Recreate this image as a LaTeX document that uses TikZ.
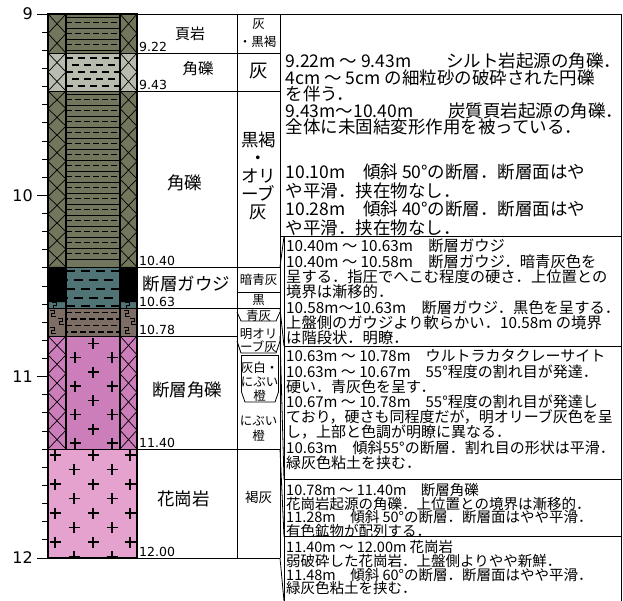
\documentclass[tikz,border=0pt]{standalone}
\usepackage{fontspec}
\setmainfont{Noto Sans CJK JP}
\newfontfamily\numfont{DejaVu Sans}

\definecolor{shalecol}{RGB}{114,118,92}
\definecolor{siltcol}{RGB}{184,188,174}
\definecolor{gougecol}{RGB}{80,115,118}
\definecolor{catacol}{RGB}{124,110,100}
\definecolor{brecol}{RGB}{204,126,186}
\definecolor{granitecol}{RGB}{230,162,206}

\tikzset{
  frame/.style={line width=0.8pt},
  hatch/.style={line width=0.7pt},
  plus/.style={line width=1.6pt},
  axisnum/.style={anchor=east,inner sep=0pt,font=\numfont\fontsize{16}{16}\selectfont},
  depthnum/.style={anchor=south west,inner sep=0pt,font=\numfont\fontsize{12.5}{12.5}\selectfont},
  rock/.style={inner sep=0pt,font=\fontsize{17.5}{17.5}\selectfont},
  colour/.style={inner sep=0pt,align=center,font=\fontsize{12.5}{13}\selectfont},
  desc/.style={anchor=north west,align=left,inner sep=0pt},
}

% crossed cells of a side strip: x left, x right, y top, cell height, count
\newcommand\xcells[5]{%
  \foreach \k in {1,...,#5}
    \draw[hatch] (#1,{#3+#4*(\k-1)}) -- (#2,{#3+#4*\k})
                 (#2,{#3+#4*(\k-1)}) -- (#1,{#3+#4*\k});}
\newcommand\plussign[2]{\draw[plus] ({#1-5.5},#2) -- ({#1+5.5},#2) (#1,{#2-5.5}) -- (#1,{#2+5.5});}
\newcommand\hook[2]{\draw[line width=1pt] (#1,#2) -- ++(4,0) -- ++(0,3) -- ++(-2.5,0) -- ++(0,3) -- ++(4,0);}

\begin{document}
\begin{tikzpicture}[x=1pt,y=-1pt]
\useasboundingbox (0,0) rectangle (623,601);

% rock column
\fill[shalecol] (48,14) rectangle (137,53);
\fill[siltcol] (48,53) rectangle (137,91);
\fill[shalecol] (48,91) rectangle (137,267);
\fill[gougecol] (48,267) rectangle (137,308.5);
\fill[black] (48,267) rectangle (66,302) (120,267) rectangle (137,302);
\fill[catacol] (48,308.5) rectangle (137,336);
\fill[brecol] (48,336) rectangle (137,449);
\fill[granitecol] (48,449) rectangle (137,558);

\xcells{48}{66}{14}{19.5}{2}
\xcells{120}{137}{14}{19.5}{2}
\xcells{48}{66}{53}{19}{2}
\xcells{120}{137}{53}{19}{2}
\xcells{48}{66}{91}{17.6}{10}
\xcells{120}{137}{91}{17.6}{10}
\xcells{48}{66}{336}{18.83}{6}
\xcells{120}{137}{336}{18.83}{6}

\foreach \yy in {17,28,39,50} \draw[line width=0.9pt] (66,\yy) -- (120,\yy);
\foreach \yy in {22.5,33.5,44.5} \draw[line width=1.2pt,dash pattern=on 6pt off 3pt] (66,\yy) -- (120,\yy);
\foreach \yy/\ph in {58/0,65/6,72/0,79/6,86/0}
  \draw[line width=1.4pt,dash pattern=on 7pt off 5pt,dash phase=\ph pt] (66,\yy) -- (120,\yy);
\foreach \yy in {94,105,...,264} \draw[line width=0.9pt] (66,\yy) -- (120,\yy);
\foreach \yy in {99.5,110.5,...,264} \draw[line width=1.2pt,dash pattern=on 6pt off 3pt] (66,\yy) -- (120,\yy);
\foreach \yy/\ph in {271/0,280/7,289/0,298/7,306/0}
  \draw[line width=1.2pt,dash pattern=on 9pt off 6pt,dash phase=\ph pt] (66,\yy) -- (120,\yy);
\foreach \yy/\ph in {312.5/0,319/4,325.5/0,332/4}
  \draw[line width=1.1pt,dash pattern=on 6pt off 3pt,dash phase=\ph pt] (66,\yy) -- (120,\yy);

\hook{52}{302.5} \hook{125}{302.5}
\foreach \yy/\xa/\xb in {310/50/124,318.5/58/130,327/50/124}
  {\hook{\xa}{\yy} \hook{\xb}{\yy}}

\begin{scope}
  \clip (66,336) rectangle (120,449);
  \foreach \yy in {343.5,372,400.5,429} {\plussign{93}{\yy}}
  \foreach \yy in {357.5,386,414.5,443} {\plussign{75}{\yy} \plussign{112}{\yy}}
\end{scope}
\begin{scope}
  \clip (48,449) rectangle (137,558);
  \foreach \yy in {455,484,513,542} {\foreach \xx in {55,93,130} {\plussign{\xx}{\yy}}}
  \foreach \yy in {469.5,498.5,527.5,556.5} {\foreach \xx in {74,112} {\plussign{\xx}{\yy}}}
\end{scope}

\draw[line width=1.3pt] (66,14) -- (66,449) (120,14) -- (120,449);
\draw[frame] (48,53) -- (137,53) (48,91) -- (137,91) (48,267) -- (137,267)
  (48,308.5) -- (137,308.5) (48,336) -- (137,336) (48,449) -- (137,449);
\draw[line width=1.2pt] (48,14) rectangle (137,558);

% depth scale
\foreach \k in {0,...,30} \draw[frame] (42,{14+18.13*\k}) -- (48,{14+18.13*\k});
\foreach \k/\d in {0/9,1/10,2/11,3/12} {
  \draw[frame] (37,{14+181.3*\k}) -- (48,{14+181.3*\k});
  \node[axisnum] (ax\d) at (33,{14+181.3*\k}) {\d};
}

% name and colour columns
\draw[frame] (137,14) -- (280,14) (237,14) -- (237,558) (280,14) -- (280,558);
\draw[frame] (137,53) -- (280,53) (137,91) -- (280,91) (137,267) -- (280,267)
  (137,308.5) -- (280,308.5) (137,336) -- (237,336) (137,449) -- (280,449)
  (137,558) -- (280,558) (237,292) -- (280,292);
\draw[frame] (237,312) -- (241,321) -- (276,321) -- (280,312);
\draw[frame] (237,341) -- (241,353) -- (276,353) -- (280,341);
\draw[frame] (241.5,355.5) -- (241.5,392) -- (245,402) -- (275,402) -- (278.5,392) -- (278.5,355.5) -- cycle;

\node[rock,font=\fontsize{15}{15}\selectfont] (nShale) at (190,34) {頁岩};
\node[rock,font=\fontsize{15.5}{15.5}\selectfont] (nBreccia) at (198,69) {角礫};
\node[rock] (nBrecciaB) at (184.5,183) {角礫};
\node[rock] (nGouge) at (186.5,284) {断層ガウジ};
\node[rock] (nFaultBr) at (187,390) {断層角礫};
\node[rock] (nGranite) at (183.5,499) {花崗岩};

\node[depthnum] (d922) at (139,51.5) {9.22};
\node[depthnum] (d943) at (139,89.5) {9.43};
\node[depthnum] (d1040) at (139,265.5) {10.40};
\node[depthnum] (d1063) at (139,307) {10.63};
\node[depthnum] (d1078) at (139,334.5) {10.78};
\node[depthnum] (d1140) at (139,447.5) {11.40};
\node[depthnum] (d1200) at (139,556.5) {12.00};

\node[colour] (cShaleA) at (258.5,24) {灰};
\node[colour] (cShaleB) at (257.5,42) {・黒褐};
\node[colour,font=\fontsize{18.5}{18.5}\selectfont] (cBreccia) at (258.5,71) {灰};
\node[colour,font=\fontsize{17.5}{18}\selectfont] (cBrecciaB) at (258.5,176) {黒褐\\・\\オリ\\ーブ\\灰};
\node[colour] (cGougeA) at (258.5,280) {暗青灰};
\node[colour] (cGougeB) at (258.5,300) {黒};
\node[colour] (cCataA) at (258.5,315.5) {青灰};
\node[colour] (cCataB) at (258.5,341) {明オリ\\ーブ灰};
\node[colour,font=\fontsize{12.5}{14}\selectfont] (cFaultA) at (259.5,382) {灰白・\\にぶい\\橙};
\node[colour,font=\fontsize{12.5}{15}\selectfont] (cFaultB) at (258.5,428.5) {にぶい\\橙};
\node[colour,font=\fontsize{13.5}{13.5}\selectfont] (cGranite) at (258.5,497) {褐灰};

% description boxes
\draw[frame] (280,14) -- (621,14) -- (621,601);
\draw[frame] (280,236.5) -- (621,236.5) (284,346) -- (621,346)
  (284,479.5) -- (621,479.5) (284,536.5) -- (621,536.5);
\draw[frame] (284,236.5) -- (284,601);
\draw[frame] (280,267) -- (284,236.5) (280,308.5) -- (284,346)
  (280,336) -- (284,479.5) (280,449) -- (284,536.5) (280,558) -- (284,601);

\node[desc,font=\fontsize{17.5}{16.5}\selectfont] (descA) at (285.5,53)
  {9.22m ～ 9.43m　　シルト岩起源の角礫．\\4cm ～ 5cm の細粒砂の破砕された円礫\\を伴う．\\9.43m～10.40m　　炭質頁岩起源の角礫．\\全体に未固結変形作用を被っている．};
\node[desc,font=\fontsize{17.5}{18.5}\selectfont] (descB) at (285.5,164)
  {10.10m　傾斜 50°の断層．断層面はや\\や平滑．挟在物なし．\\10.28m　傾斜 40°の断層．断層面はや\\や平滑．挟在物なし．};
\node[desc,font=\fontsize{15.3}{15.3}\selectfont] (descC) at (286,239)
  {10.40m ～ 10.63m　断層ガウジ\\10.40m ～ 10.58m　断層ガウジ．暗青灰色を\\呈する．指圧でへこむ程度の硬さ．上位置との\\境界は漸移的．\\10.58m～10.63m　断層ガウジ．黒色を呈する．\\上盤側のガウジより軟らかい．10.58m の境界\\は階段状．明瞭．};
\node[desc,font=\fontsize{15}{15.2}\selectfont] (descD) at (286,349.5)
  {10.63m ～ 10.78m　ウルトラカタクレーサイト\\10.63m ～ 10.67m　55°程度の割れ目が発達．\\硬い．青灰色を呈す．\\10.67m ～ 10.78m　55°程度の割れ目が発達し\\ており，硬さも同程度だが，明オリーブ灰色を呈\\し，上部と色調が明瞭に異なる．\\10.63m　傾斜55°の断層．割れ目の形状は平滑．\\緑灰色粘土を挟む．};
\node[desc,font=\fontsize{14.5}{13.6}\selectfont] (descE) at (286,483)
  {10.78m ～ 11.40m　断層角礫\\花崗岩起源の角礫．上位置との境界は漸移的．\\11.28m　傾斜 50°の断層．断層面はやや平滑．\\有色鉱物が配列する．};
\node[desc,font=\fontsize{14.5}{13.8}\selectfont] (descF) at (286,540)
  {11.40m ～ 12.00m 花崗岩\\弱破砕した花崗岩．上盤側よりやや新鮮．\\11.48m　傾斜 60°の断層．断層面はやや平滑．\\緑灰色粘土を挟む．};
\end{tikzpicture}
\end{document}
